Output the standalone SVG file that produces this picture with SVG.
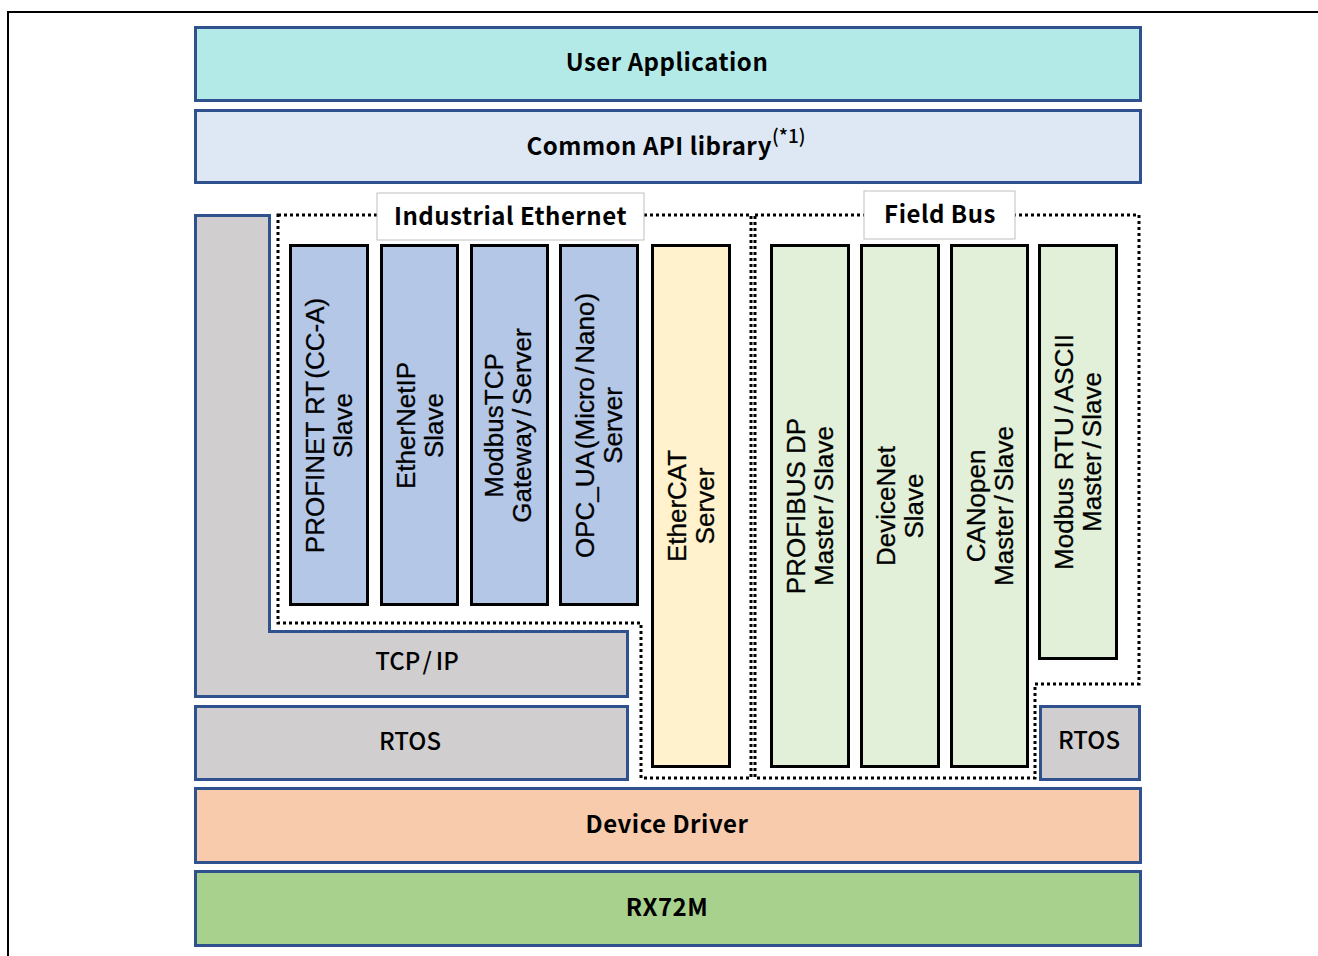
<svg xmlns="http://www.w3.org/2000/svg" width="1318" height="956" viewBox="0 0 1318 956">
<style>
.layer{stroke:#2F528F;stroke-width:3}
.col{stroke:#000;stroke-width:3}
.dot{fill:none;stroke:#000;stroke-width:3;stroke-dasharray:3 3}
.lbl{fill:#fff;stroke:#BFBFBF;stroke-width:1}
.h{font-family:"Noto Sans CJK JP","Noto Sans",sans-serif;font-weight:bold;font-size:24px;letter-spacing:0.5px;fill:#000;text-anchor:middle}
.m{font-family:"Noto Sans CJK JP","Noto Sans",sans-serif;font-weight:500;font-size:24px;fill:#000;text-anchor:middle}
.v{font-family:"Liberation Sans",Arial,sans-serif;font-size:26px;fill:#000;text-anchor:middle;stroke:#000;stroke-width:0.3}
</style>
<rect width="1318" height="956" fill="#fff"/>
<path d="M1318,12 H8 V956" fill="none" stroke="#000" stroke-width="2"/>

<g id="user-application">
<rect class="layer" x="195.5" y="27.5" width="945" height="73" fill="#B3EAE8"/>
<text class="h" x="667" y="71">User Application</text>
</g>
<g id="common-api">
<rect class="layer" x="195.5" y="110.5" width="945" height="72" fill="#DEE8F5"/>
<text class="h" x="666" y="155">Common API library<tspan font-size="19" font-weight="500" letter-spacing="0" dy="-12">(*1)</tspan></text>
</g>

<g id="groups">
<path class="dot" d="M278,215 H751 V778 H641 V623 H278 Z"/>
<path class="dot" d="M755,215 H1139 V684 H1035 V778 H755 Z"/>
<g id="industrial-ethernet-label">
<rect class="lbl" x="377" y="193" width="267" height="47"/>
<text class="h" x="510.5" y="225">Industrial Ethernet</text>
</g>
<g id="field-bus-label">
<rect class="lbl" x="864" y="191" width="151" height="48"/>
<text class="h" x="940" y="223">Field Bus</text>
</g>
</g>

<g id="tcpip">
<path class="layer" d="M195.5,215.5 H269.5 V631.5 H627.5 V696.5 H195.5 Z" fill="#D0CECE"/>
<text class="m" x="417" y="670">TCP<tspan dx="4">/</tspan><tspan dx="4">IP</tspan></text>
</g>
<g id="rtos-left">
<rect class="layer" x="195.5" y="706.5" width="432" height="73" fill="#D0CECE"/>
<text class="m" x="410" y="750" font-size="25">RTOS</text>
</g>
<g id="rtos-right">
<rect class="layer" x="1040.5" y="706.5" width="99" height="73" fill="#D0CECE"/>
<text class="m" x="1089" y="749" font-size="21">RTOS</text>
</g>

<g id="profinet">
<rect class="col" x="290.5" y="245.5" width="77" height="359" fill="#B4C7E7"/>
<text class="v" transform="translate(329,425.5) rotate(-90)"><tspan x="0" y="-5">PROFINET RT<tspan dx="2">(</tspan>CC-A)</tspan><tspan x="0" y="23">Slave</tspan></text>
</g>
<g id="ethernetip">
<rect class="col" x="381.5" y="245.5" width="76" height="359" fill="#B4C7E7"/>
<text class="v" transform="translate(419.5,425.5) rotate(-90)"><tspan x="0" y="-5">EtherNetIP</tspan><tspan x="0" y="23">Slave</tspan></text>
</g>
<g id="modbustcp">
<rect class="col" x="471.5" y="245.5" width="76" height="359" fill="#B4C7E7"/>
<text class="v" transform="translate(509.5,425.5) rotate(-90)"><tspan x="0" y="-7">ModbusTCP</tspan><tspan x="0" y="21">Gateway<tspan dx="4">/</tspan><tspan dx="4">Server</tspan></tspan></text>
</g>
<g id="opc-ua">
<rect class="col" x="560.5" y="245.5" width="77" height="359" fill="#B4C7E7"/>
<text class="v" transform="translate(599,425.5) rotate(-90)"><tspan x="0" y="-5">OPC_UA<tspan dx="2">(</tspan>Micro<tspan dx="3">/</tspan><tspan dx="3">Nano)</tspan></tspan><tspan x="0" y="23">Server</tspan></text>
</g>
<g id="ethercat">
<rect class="col" x="652.5" y="245.5" width="77" height="521" fill="#FFF2CC"/>
<text class="v" transform="translate(691,506) rotate(-90)"><tspan x="0" y="-5">EtherCAT</tspan><tspan x="0" y="23">Server</tspan></text>
</g>
<g id="profibus">
<rect class="col" x="771.5" y="245.5" width="77" height="521" fill="#E2F0D9"/>
<text class="v" transform="translate(810,506) rotate(-90)"><tspan x="0" y="-5">PROFIBUS DP</tspan><tspan x="0" y="23">Master<tspan dx="4">/</tspan><tspan dx="4">Slave</tspan></tspan></text>
</g>
<g id="devicenet">
<rect class="col" x="861.5" y="245.5" width="77" height="521" fill="#E2F0D9"/>
<text class="v" transform="translate(900,506) rotate(-90)"><tspan x="0" y="-5">DeviceNet</tspan><tspan x="0" y="23">Slave</tspan></text>
</g>
<g id="canopen">
<rect class="col" x="951.5" y="245.5" width="76" height="521" fill="#E2F0D9"/>
<text class="v" transform="translate(989.5,506) rotate(-90)"><tspan x="0" y="-5">CANopen</tspan><tspan x="0" y="23">Master<tspan dx="4">/</tspan><tspan dx="4">Slave</tspan></tspan></text>
</g>
<g id="modbus-rtu">
<rect class="col" x="1039.5" y="245.5" width="77" height="413" fill="#E2F0D9"/>
<text class="v" transform="translate(1078,452) rotate(-90)"><tspan x="0" y="-5">Modbus RTU<tspan dx="4">/</tspan><tspan dx="4">ASCII</tspan></tspan><tspan x="0" y="23">Master<tspan dx="4">/</tspan><tspan dx="4">Slave</tspan></tspan></text>
</g>

<g id="device-driver">
<rect class="layer" x="195.5" y="788.5" width="945" height="74" fill="#F8CBAD"/>
<text class="h" x="667" y="833">Device Driver</text>
</g>
<g id="rx72m">
<rect class="layer" x="195.5" y="871.5" width="945" height="74" fill="#A9D18E"/>
<text class="h" x="667" y="916">RX72M</text>
</g>
<g id="connectors"/>
</svg>
